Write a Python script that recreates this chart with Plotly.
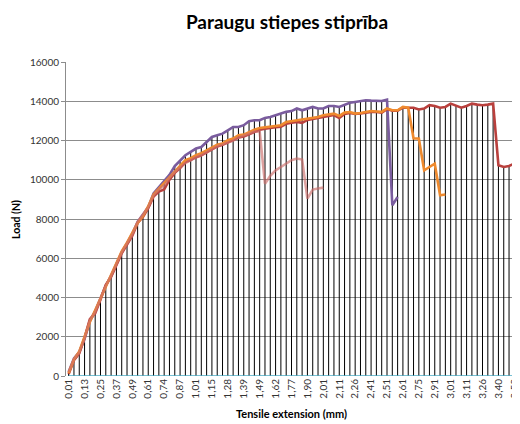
import numpy as np
import plotly.graph_objects as go

# Category labels shown on the axis (every 3rd category)
shown_labels = ["0,01", "0,13", "0,25", "0,37", "0,49", "0,61", "0,74", "0,87", "1,01",
                "1,15", "1,28", "1,39", "1,49", "1,62", "1,77", "1,90", "2,01", "2,11",
                "2,26", "2,41", "2,51", "2,61", "2,75", "2,91", "3,01", "3,11", "3,26",
                "3,40", "3,52"]
n_cat = 85

purple = [200, 900, 1220, 1900, 2800, 3300, 3950, 4600, 5100, 5700, 6300, 6750, 7250, 7850,
          8200, 8600, 9300, 9600, 9900, 10250, 10700,
          10990, 11250, 11420, 11590, 11670, 11930, 12180, 12270, 12350, 12520, 12690, 12690,
          12780, 12980, 13030, 13030, 13150, 13200, 13290, 13370, 13460, 13500, 13630, 13540,
          13630, 13710, 13630, 13630, 13760, 13760, 13710, 13830, 13920, 13960, 14000, 14050,
          14030, 14010, 14010, 14080, 8700, 9120]

orange = [150, 850, 1250, 2000, 2750, 3350, 3950, 4550, 5150, 5750, 6350, 6800, 7300, 7800,
          8150, 8650, 9250, 9550, 9850, 10150, 10450,
          10750, 11000, 11100, 11250, 11350, 11500, 11650, 11790, 11850, 12010, 12100, 12270,
          12300, 12430, 12550, 12640, 12680, 12720, 12750, 12780, 12940, 12980, 13030, 13080,
          13120, 13150, 13200, 13290, 13330, 13370, 13250, 13420, 13450, 13370, 13400, 13460,
          13500, 13480, 13460, 13630, 13540, 13540, 13710, 13670, 12100, 12100, 10480, 10650,
          10820, 9210, 9250]

red = [100, 800, 1150, 1950, 2900, 3200, 3900, 4650, 5050, 5650, 6250, 6700, 7150, 7800,
       8100, 8550, 9150, 9400, 9500, 10000, 10350,
       10600, 10900, 11000, 11150, 11250, 11400, 11550, 11700, 11780, 11900, 12000, 12150,
       12200, 12330, 12450, 12550, 12600, 12650, 12680, 12700, 12850, 12900, 12950, 12900,
       13050, 13100, 13150, 13200, 13250, 13300, 13150, 13350, 13400, 13350, 13380, 13420,
       13450, 13450, 13420, 13600, 13520, 13520, 13680, 13670, 13670, 13580, 13630, 13800,
       13760, 13670, 13710, 13880, 13760, 13670, 13760, 13880, 13830, 13800, 13830, 13880,
       10740, 10650, 10700, 10820]

pink = [200, 850, 1200, 1900, 2850, 3250, 3950, 4600, 5100, 5700, 6300, 6750, 7200, 7850,
        8200, 8600, 9200, 9500, 9700, 10100, 10400,
        10650, 10850, 11000, 11150, 11250, 11400, 11550, 11700, 11800, 11900, 12000, 12150,
        12250, 12350, 12450, 12450, 9800, 10200, 10480, 10650, 10820, 11000, 11080, 11030,
        9040, 9500, 9550, 9600]

zeros = [0] * n_cat

series = [
    ("Series 1", purple, "#7a5c9e"),
    ("Series 2", red, "#b9403d"),
    ("Series 3", orange, "#ef8a2e"),
    ("Series 4", pink, "rgba(205,110,108,0.65)"),
]

# drop lines: from axis to highest point at each category
def padded(s):
    return s + [np.nan] * (n_cat - len(s))

stack = np.array([padded(s) for _, s, _ in series], dtype=float)
tops = np.nanmax(stack, axis=0)
dx, dy = [], []
for i in range(n_cat):
    dx += [i, i, None]
    dy += [0, tops[i], None]

fig = go.Figure()
fig.add_trace(go.Scatter(x=dx, y=dy, mode="lines",
                         line=dict(color="#000000", width=1), hoverinfo="skip",
                         showlegend=False))
fig.add_trace(go.Scatter(x=list(range(n_cat)), y=zeros, mode="lines",
                         line=dict(color="#4bacc6", width=1.5), showlegend=False))
for name, vals, col in series:
    fig.add_trace(go.Scatter(x=list(range(len(vals))), y=vals, mode="lines", name=name,
                             line=dict(color=col, width=2.6), showlegend=False))

# the page body adds an 8px offset; margins compensate for it
fig.update_layout(
    width=520, height=424,
    margin=dict(l=58, r=11, t=54, b=56, autoexpand=False),
    paper_bgcolor="white", plot_bgcolor="white",
    font=dict(family="Lato, Open Sans, sans-serif", size=10, color="#333333"),
    title=dict(text="<b>Paraugu stiepes stiprība</b>", x=0.5365, xanchor="center",
               y=0.967, yanchor="middle",
               font=dict(family="Lato, Open Sans, sans-serif", size=19, color="#000000")),
    showlegend=False,
    annotations=[
        dict(text="<b>Load (N)</b>", xref="paper", yref="paper", x=-0.111, y=0.5,
             xanchor="center", yanchor="middle", textangle=-90, showarrow=False,
             font=dict(size=10.5, color="#000000")),
        dict(text="<b>Tensile extension (mm)</b>", xref="paper", yref="paper", x=0.5,
             y=-0.118, xanchor="center", yanchor="middle", showarrow=False,
             font=dict(size=11, color="#000000")),
    ],
)
fig.update_xaxes(
    range=[-0.5, n_cat - 0.5],
    tickmode="array",
    tickvals=list(range(0, n_cat, 3)),
    ticktext=shown_labels,
    tickangle=-90,
    tickfont=dict(size=10, color="#333333"),
    showgrid=False, zeroline=False, showline=False,
    ticks="", automargin=False,
)
fig.update_yaxes(
    range=[0, 16000],
    tickmode="linear", tick0=0, dtick=2000, tickformat="d",
    showgrid=True, gridcolor="#8c8c8c", gridwidth=1,
    zeroline=False,
    showline=True, linecolor="#8c8c8c", linewidth=1,
    ticks="outside", ticklen=4, tickcolor="#8c8c8c",
    tickfont=dict(size=10, color="#333333"),
    automargin=False,
)

fig.write_html("out.html")
